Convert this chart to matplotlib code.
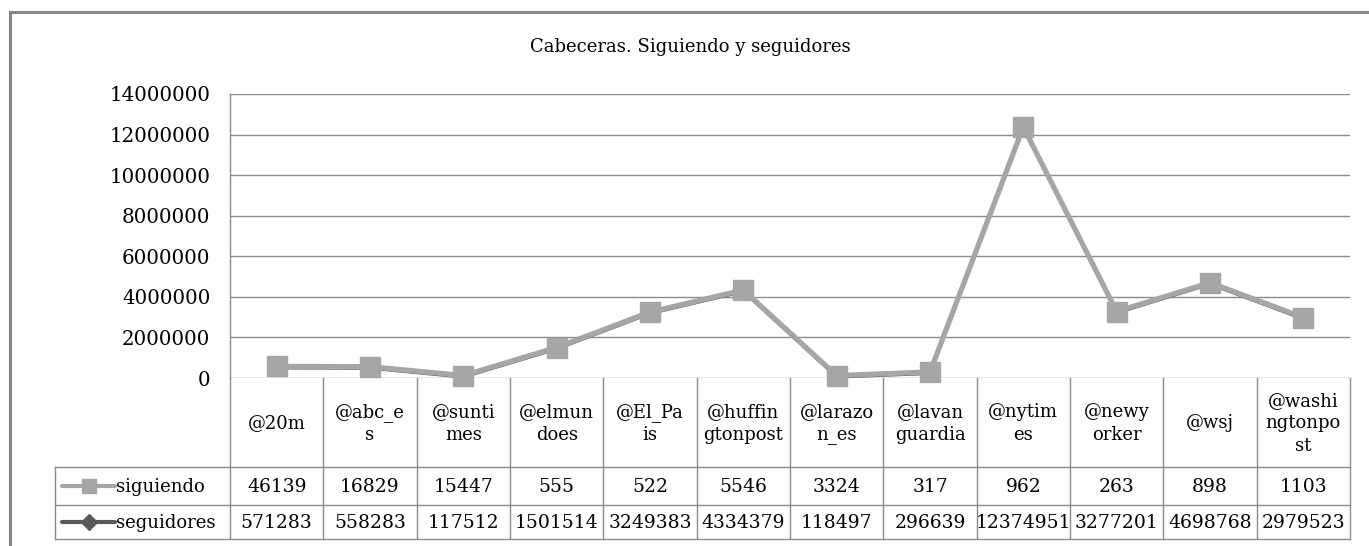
import matplotlib
matplotlib.use("Agg")
import matplotlib.pyplot as plt
import matplotlib.transforms as mtransforms
import numpy as np

# ---- data ----
categories = ["@20m", "@abc_es", "@suntimes", "@elmundoes", "@El_Pais", "@huffingtonpost",
              "@larazon_es", "@lavanguardia", "@nytimes", "@newyorker", "@wsj", "@washingtonpost"]
cat_labels = ["@20m", "@abc_e\ns", "@sunti\nmes", "@elmun\ndoes", "@El_Pa\nis", "@huffin\ngtonpost",
              "@larazo\nn_es", "@lavan\nguardia", "@nytim\nes", "@newy\norker", "@wsj", "@washi\nngtonpo\nst"]
siguiendo = [46139, 16829, 15447, 555, 522, 5546, 3324, 317, 962, 263, 898, 1103]
seguidores = [571283, 558283, 117512, 1501514, 3249383, 4334379, 118497, 296639,
              12374951, 3277201, 4698768, 2979523]
series_names = ["siguiendo", "seguidores"]
title = "Cabeceras. Siguiendo y seguidores"
yticks = [0, 2000000, 4000000, 6000000, 8000000, 10000000, 12000000, 14000000]

# ---- styles ----
W, H = 1369, 546
FONT = "DejaVu Serif"
GRID = "#8c8c8c"
LIGHT = "#a6a6a6"
DARK = "#595959"
TXT = "#000000"

plt.rcParams["font.family"] = [FONT]

fig = plt.figure(figsize=(W / 100, H / 100), dpi=100)
fig.patch.set_facecolor("white")

# plot area in pixel coords
L, R, T, B = 230, 1350, 94, 378
ax = fig.add_axes([L / W, 1 - B / H, (R - L) / W, (B - T) / H])
x = np.arange(len(categories))
ax.set_xlim(-0.5, len(categories) - 0.5)
ax.set_ylim(0, 14000000)
ax.set_yticks(yticks)
ax.set_yticklabels([str(v) for v in yticks], fontsize=14.3, color=TXT)
ax.tick_params(axis="y", length=0, pad=14)
ax.set_xticks([])
ax.grid(axis="y", color=GRID, lw=1)
ax.set_axisbelow(True)
for s in ["top", "right", "bottom"]:
    ax.spines[s].set_visible(False)
ax.spines["left"].set_color(GRID)
ax.spines["left"].set_linewidth(1)

off = mtransforms.offset_copy(ax.transData, fig=fig, x=0, y=-2, units="dots")
ax.plot(x, seguidores, color=DARK, lw=1.5, marker="D", ms=6, transform=off, zorder=2, clip_on=False)
ax.plot(x, seguidores, color=LIGHT, lw=3.8, marker="s", ms=14.5, zorder=3, clip_on=False)

# overlay axes in pixel coords
axf = fig.add_axes([0, 0, 1, 1], zorder=-1)
axf.set_xlim(0, W)
axf.set_ylim(H, 0)
axf.axis("off")
axt = fig.add_axes([0, 0, 1, 1], zorder=5)
axt.set_xlim(0, W)
axt.set_ylim(H, 0)
axt.axis("off")
axt.patch.set_alpha(0)

# outer border
axf.plot([10, 10], [H + 5, 12], color="#888888", lw=2.2, solid_capstyle="projecting")
axf.plot([10, W + 5], [12, 12], color="#888888", lw=2.2, solid_capstyle="projecting")

# title
axt.text(690, 47, title, ha="center", va="center", fontsize=13, color=TXT)

# table (x in data units of ax, y in pixels)
bt = mtransforms.blended_transform_factory(ax.transData, axt.transData)
r0, r1, r2, r3 = 378, 467, 505, 539
leg_left = 55
for i in range(len(categories) + 1):
    axt.plot([i - 0.5, i - 0.5], [r0, r3], color=GRID, lw=1, transform=bt)
for yy in [r1, r2, r3]:
    axt.plot([leg_left, R], [yy, yy], color=GRID, lw=1)
axt.plot([leg_left, leg_left], [r1, r3], color=GRID, lw=1)

for i, lab in enumerate(cat_labels):
    axt.text(i, (r0 + r1) / 2 + 1, lab, ha="center", va="center", fontsize=13,
             linespacing=1.35, transform=bt, color=TXT)
for i, (a, b) in enumerate(zip(siguiendo, seguidores)):
    axt.text(i, (r1 + r2) / 2 + 1, str(a), ha="center", va="center", fontsize=13.5,
             transform=bt, color=TXT)
    axt.text(i, (r2 + r3) / 2 + 1, str(b), ha="center", va="center", fontsize=13.5,
             transform=bt, color=TXT)

# legend keys
ky1 = (r1 + r2) / 2
ky2 = (r2 + r3) / 2
axt.plot([62, 115], [ky1, ky1], color=LIGHT, lw=3, solid_capstyle="round")
axt.plot([89], [ky1], marker="s", ms=10, color=LIGHT)
axt.plot([62, 115], [ky2, ky2], color=DARK, lw=3, solid_capstyle="round")
axt.plot([89], [ky2], marker="D", ms=8, color=DARK)
axt.text(116, ky1 + 1, series_names[0], ha="left", va="center", fontsize=13, color=TXT)
axt.text(116, ky2 + 1, series_names[1], ha="left", va="center", fontsize=13, color=TXT)

fig.savefig("out.png", dpi=100, facecolor="white")
